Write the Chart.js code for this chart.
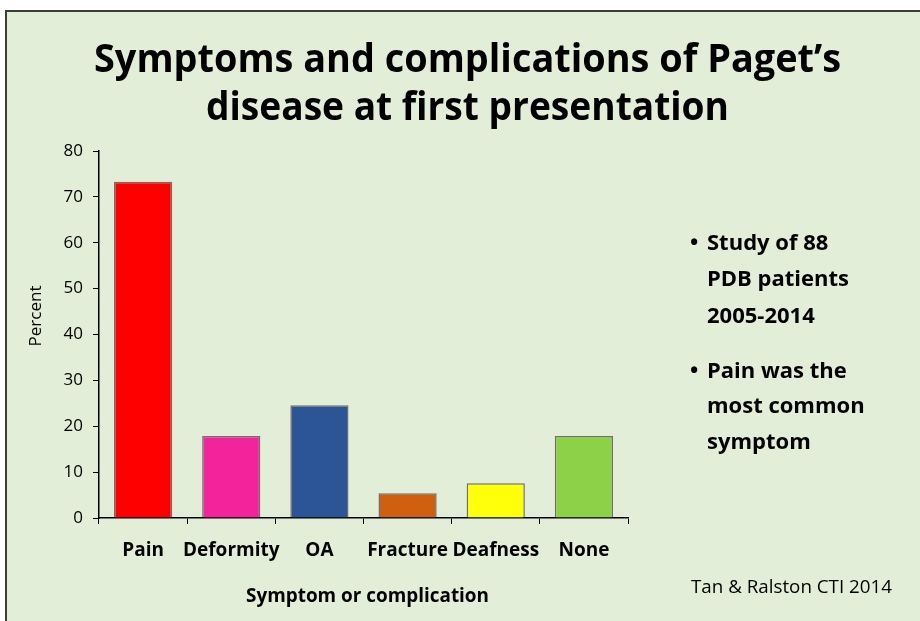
<!DOCTYPE html>
<html><head><meta charset="utf-8">
<script src="https://cdn.jsdelivr.net/npm/chart.js@4/dist/chart.umd.min.js"></script>
<style>html,body{margin:0;padding:0;background:#fff}canvas{display:block}</style>
</head><body>
<canvas id="c" width="920" height="621"></canvas>
<script>
const categories = ['Pain', 'Deformity', 'OA', 'Fracture', 'Deafness', 'None'];
const percentValues = [73.3, 17.9, 24.6, 5.4, 7.6, 17.9];
const barColors = ['#ff0000', '#f2239b', '#2c5597', '#d0600f', '#ffff0a', '#8dd148'];
const yMin = 0, yMax = 80, yStep = 10;
const titleLines = ['Symptoms and complications of Paget\u2019s', 'disease at first presentation'];
const bulletGroups = [['Study of 88', 'PDB patients', '2005-2014'], ['Pain was the', 'most common', 'symptom']];
const xAxisTitle = 'Symptom or complication';
const yAxisTitle = 'Percent';
const citation = 'Tan & Ralston CTI 2014';

const FONT = '"Open Sans", "DejaVu Sans", sans-serif';

const deco = {
  id: 'deco',
  beforeDraw(chart) {
    const ctx = chart.ctx;
    ctx.save();
    ctx.fillStyle = '#ffffff';
    ctx.fillRect(0, 0, 920, 621);
    ctx.fillStyle = '#e3eed8';
    ctx.fillRect(6, 10, 914, 611);
    ctx.fillStyle = '#3a3d3a';
    ctx.fillRect(5, 10, 915, 2);
    ctx.fillRect(5, 10, 2, 611);
    ctx.restore();
  },
  afterDraw(chart) {
    const ctx = chart.ctx;
    ctx.save();
    ctx.fillStyle = '#000';
    ctx.textBaseline = 'alphabetic';
    // title
    ctx.font = 'bold 39px ' + FONT;
    ctx.textAlign = 'center';
    ctx.fillText(titleLines[0], 467.5, 72, 747);
    ctx.fillText(titleLines[1], 467.5, 120, 523);
    // bullets
    ctx.font = 'bold 22px ' + FONT;
    ctx.textAlign = 'left';
    const sx = Math.min(1, 184 / ctx.measureText('most common').width);
    const baselines = [[250, 286, 323], [378, 413, 449]];
    bulletGroups.forEach((g, gi) => {
      ctx.fillText('\u2022', 690, baselines[gi][0]);
      g.forEach((line, li) => {
        ctx.save();
        ctx.translate(707, baselines[gi][li]);
        ctx.scale(sx, 1);
        ctx.fillText(line, 0, 0);
        ctx.restore();
      });
    });
    // citation
    ctx.font = '19px ' + FONT;
    ctx.fillText(citation, 691, 593, 201);
    // x axis title
    ctx.font = 'bold 20px ' + FONT;
    ctx.textAlign = 'center';
    ctx.fillText(xAxisTitle, 367.5, 602, 243);
    // y axis title
    ctx.font = '17px ' + FONT;
    ctx.translate(36, 316);
    ctx.rotate(-Math.PI / 2);
    ctx.textBaseline = 'middle';
    ctx.fillText(yAxisTitle, 0, 0);
    ctx.restore();
  }
};

function build() {
  new Chart(document.getElementById('c'), {
    type: 'bar',
    data: {
      labels: categories,
      datasets: [{
        data: percentValues,
        backgroundColor: barColors,
        borderColor: 'rgba(60,60,60,0.7)',
        borderWidth: 1.5,
        barPercentage: 0.66,
        categoryPercentage: 1
      }]
    },
    plugins: [deco],
    options: {
      responsive: false,
      animation: false,
      devicePixelRatio: 1,
      layout: { padding: { top: 151, right: 292, bottom: 0, left: 0 } },
      plugins: { legend: { display: false }, tooltip: { enabled: false }, title: { display: false } },
      scales: {
        x: {
          afterFit(scale) { scale.height = 103; },
          grid: { display: true, drawOnChartArea: false, drawTicks: true, tickLength: 6, color: '#000', lineWidth: 1, offset: true },
          border: { display: true, color: '#000', width: 1.5 },
          ticks: { color: '#000', padding: 15, autoSkip: false, maxRotation: 0, minRotation: 0, font: { family: FONT, size: 19, weight: 'bold' } }
        },
        y: {
          min: yMin, max: yMax,
          afterFit(scale) { scale.width = 99; },
          grid: { display: true, drawOnChartArea: false, drawTicks: true, tickLength: 6, color: '#000', lineWidth: 1 },
          border: { display: true, color: '#000', width: 1.5 },
          ticks: { stepSize: yStep, color: '#000', padding: 10, font: { family: FONT, size: 17 } }
        }
      }
    }
  });
}

Promise.all([
  document.fonts.load('bold 39px "Open Sans"'),
  document.fonts.load('17px "Open Sans"')
]).then(build, build);
</script>
</body></html>
